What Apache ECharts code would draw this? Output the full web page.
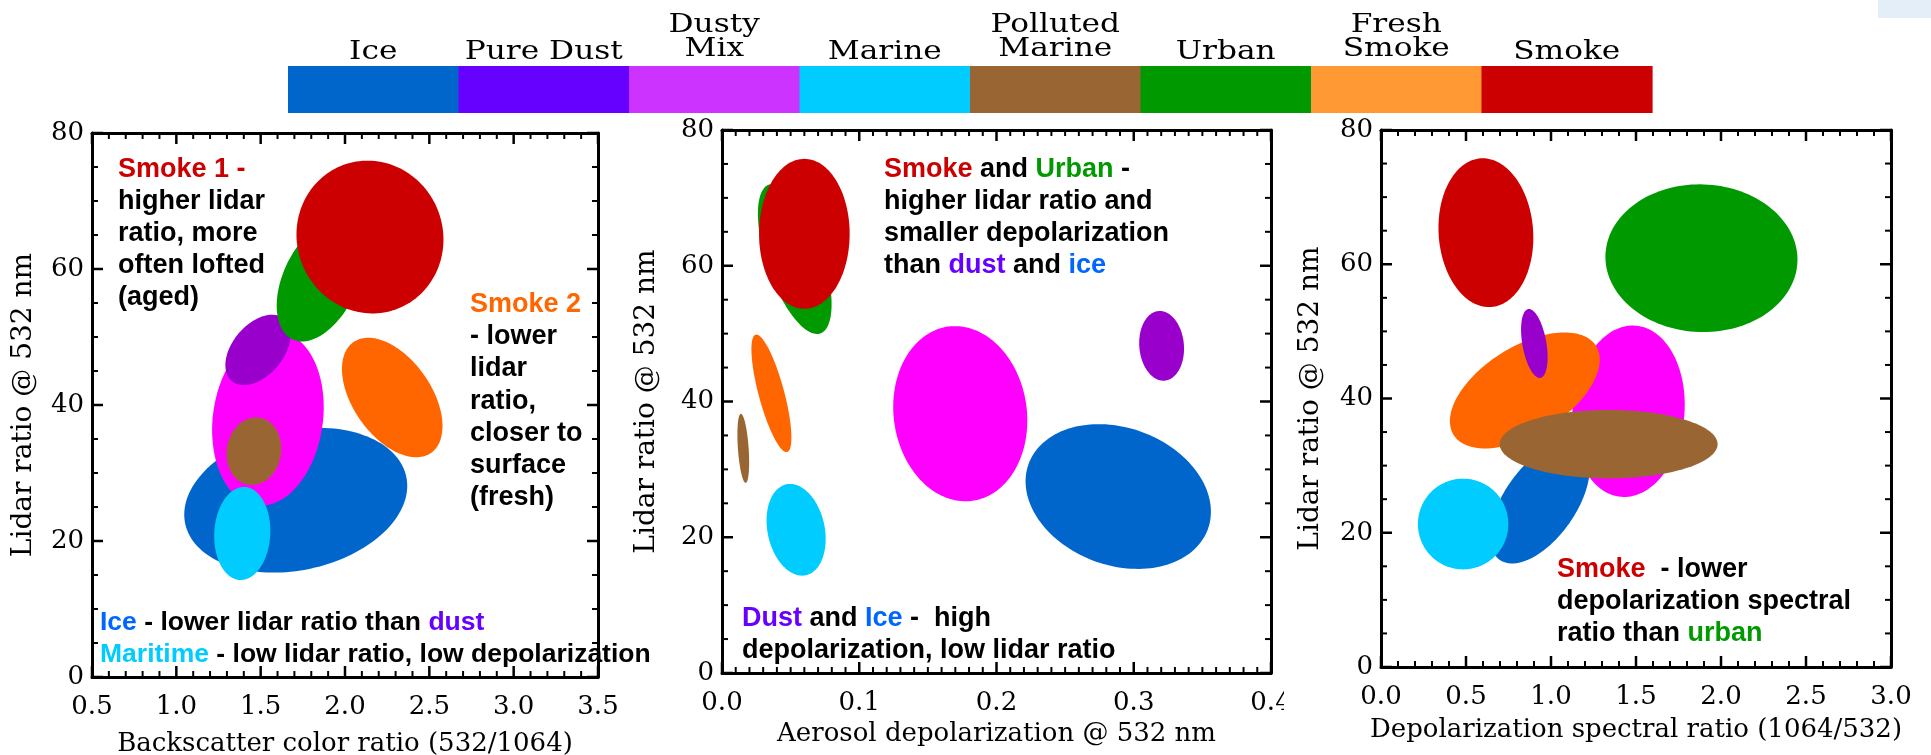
<!DOCTYPE html>
<html><head><meta charset="utf-8">
<script src="https://cdn.jsdelivr.net/npm/echarts@6/dist/echarts.min.js"></script>
<style>html,body{margin:0;padding:0;background:#fff;}#chart{width:1931px;height:755px;}</style>
</head><body><div id="chart"></div>
<script>
// ---------------- DATA ----------------
const categories = ['Ice', 'Pure Dust', 'Dusty Mix', 'Marine', 'Polluted Marine', 'Urban', 'Fresh Smoke', 'Smoke'];
const legendLabels = ['Ice', 'Pure Dust', 'Dusty\nMix', 'Marine', 'Polluted\nMarine', 'Urban', 'Fresh\nSmoke', 'Smoke'];
const legendColors = ['#0066CC', '#6600FF', '#CC33FF', '#00CCFF', '#996633', '#009900', '#FF9933', '#CC0000'];
const ellipseColors = ['#0066CC', '#9900CC', '#FF00FF', '#00CCFF', '#996633', '#009900', '#FF6600', '#CC0000'];
const drawOrder = [0, 2, 3, 6, 1, 4, 5, 7];

// rows: [categoryIndex, centerX, centerY(lidar ratio), halfWidthX, halfHeightY, tilt(deg)]
const colorRatioEllipses = [
  [0, 1.708, 26.0, 0.67, 10.3, 12],
  [1, 1.484, 48.1, 0.241, 3.74, 50],
  [2, 1.543, 38.0, 0.326, 12.9, -8],
  [3, 1.391, 21.1, 0.166, 6.85, -3],
  [4, 1.46, 33.2, 0.161, 5.0, -10],
  [5, 1.852, 58.3, 0.385, 5.44, 65],
  [6, 2.28, 41.1, 0.401, 5.74, -55],
  [7, 2.148, 64.7, 0.433, 11.3, 20]
];
const depolEllipses = [
  [0, 0.2887, 26.0, 0.0695, 10.13, -20],
  [1, 0.3203, 48.2, 0.01625, 5.15, 5],
  [2, 0.1736, 38.2, 0.0485, 12.96, 8],
  [3, 0.054, 21.1, 0.0208, 6.85, 12],
  [4, 0.0155, 33.1, 0.0039, 5.1, 4],
  [5, 0.053, 61.0, 0.0204, 11.6, 19],
  [6, 0.036, 41.2, 0.0093, 8.95, 15],
  [7, 0.060, 64.7, 0.033, 11.05, 0]
];
const spectralEllipses = [
  [0, 0.935, 24.5, 0.412, 5.35, 55],
  [1, 0.902, 48.2, 0.0706, 5.2, 10],
  [2, 1.456, 38.1, 0.329, 12.8, -5],
  [3, 0.483, 21.3, 0.266, 6.76, 0],
  [4, 1.339, 33.2, 0.641, 5.1, 0],
  [5, 1.885, 60.9, 0.565, 11.0, -2],
  [6, 0.846, 41.2, 0.494, 6.54, 32],
  [7, 0.617, 64.7, 0.278, 11.1, 4]
];

const colorRatioTicks = [0.5, 1.0, 1.5, 2.0, 2.5, 3.0, 3.5];
const depolTicks = [0.0, 0.1, 0.2, 0.3, 0.4];
const spectralTicks = [0.0, 0.5, 1.0, 1.5, 2.0, 2.5, 3.0];
const lidarTicks = [0, 20, 40, 60, 80];

const xNames = ['Backscatter color ratio (532/1064)', 'Aerosol depolarization @ 532 nm', 'Depolarization spectral ratio (1064/532)'];
const yName = 'Lidar ratio @ 532 nm';

const notes = [
  ['{red|Smoke 1 -}', '{k|higher lidar}', '{k|ratio, more}', '{k|often lofted}', '{k|(aged)}'],
  ['{orange|Smoke 2}', '{k|- lower}', '{k|lidar}', '{k|ratio,}', '{k|closer to}', '{k|surface}', '{k|(fresh)}'],
  ['{blue|Ice}{k| - lower lidar ratio than }{purple|dust}', '{cyan|Maritime}{k| - low lidar ratio, low depolarization}'],
  ['{red|Smoke}{k| and }{green|Urban}{k| -}', '{k|higher lidar ratio and}', '{k|smaller depolarization}', '{k|than }{purple|dust}{k| and }{blue|ice}'],
  ['{purple|Dust}{k| and }{blue|Ice}{k| -  high}', '{k|depolarization, low lidar ratio}'],
  ['{red|Smoke}{k|  - lower}', '{k|depolarization spectral}', '{k|ratio than }{green|urban}']
];

// ---------------- LAYOUT ----------------
const grids = [
  { left: 92, top: 133, width: 506, height: 544 },
  { left: 722, top: 130, width: 549, height: 543 },
  { left: 1381, top: 130, width: 510, height: 537 }
];
const xTickSets = [colorRatioTicks, depolTicks, spectralTicks];
const xMinorSplit = [5, 10, 5];
const yMinorSplit = 4;
const xNameGap = [54, 48, 50];
const yNameGap = [54, 61, 56];
const noteBoxes = [
  { x: 118, y: 154, lh: 32, fs: 27 },
  { x: 470, y: 288, lh: 32.3, fs: 27 },
  { x: 100, y: 606, lh: 32.7, fs: 26.5 },
  { x: 884, y: 153, lh: 32.2, fs: 27 },
  { x: 742, y: 603, lh: 31.4, fs: 27 },
  { x: 1557, y: 554, lh: 31.9, fs: 27 }
];
const MAJOR_LEN = 11, MINOR_LEN = 6;

const serif = 'DejaVu Serif';
const axisLineStyle = { color: '#000', width: 3 };

const xAxes = [], yAxes = [];
grids.forEach((g, i) => {
  const t = xTickSets[i];
  const base = {
    gridIndex: i, type: 'value', min: t[0], max: t[t.length - 1], interval: +(t[1] - t[0]).toFixed(6),
    axisLine: { show: true, onZero: false, lineStyle: axisLineStyle },
    axisTick: { show: false }, minorTick: { show: false },
    splitLine: { show: false }
  };
  xAxes.push(Object.assign({}, base, {
    position: 'bottom',
    axisLabel: { show: true, margin: 17, color: '#000', fontFamily: serif, fontSize: 26, formatter: v => v.toFixed(1) },
    name: xNames[i], nameLocation: 'middle', nameGap: xNameGap[i],
    nameTextStyle: { color: '#000', fontFamily: serif, fontSize: 26 }
  }));
  xAxes.push(Object.assign({}, base, { position: 'top', axisLabel: { show: false } }));
  const ybase = {
    gridIndex: i, type: 'value', min: lidarTicks[0], max: lidarTicks[lidarTicks.length - 1],
    interval: lidarTicks[1] - lidarTicks[0],
    axisLine: { show: true, onZero: false, lineStyle: axisLineStyle },
    axisTick: { show: false }, minorTick: { show: false },
    splitLine: { show: false }
  };
  yAxes.push(Object.assign({}, ybase, {
    position: 'left',
    axisLabel: { show: true, margin: 8, color: '#000', fontFamily: serif, fontSize: 26 },
    name: yName, nameLocation: 'middle', nameGap: yNameGap[i],
    nameTextStyle: { color: '#000', fontFamily: serif, fontSize: 28 }
  }));
  yAxes.push(Object.assign({}, ybase, { position: 'right', axisLabel: { show: false } }));
});

function ellipsePoints(c, s, th) {
  const pts = [];
  const n = 144;
  for (let i = 0; i < n; i++) {
    const t = i / n * 2 * Math.PI;
    const ex = s[0] * Math.cos(t), ey = s[1] * Math.sin(t);
    pts.push([c[0] + ex * Math.cos(th) - ey * Math.sin(th), c[1] - (ex * Math.sin(th) + ey * Math.cos(th))]);
  }
  return pts;
}

function renderEllipse(params, api) {
  const cat = api.value(0);
  const c = api.coord([api.value(1), api.value(2)]);
  const s = api.size([api.value(3), api.value(4)]);
  const th = api.value(5) * Math.PI / 180;
  return { type: 'polygon', shape: { points: ellipsePoints(c, s, th) }, style: { fill: ellipseColors[cat] } };
}

function ordered(rows) {
  return drawOrder.map(ci => rows.find(r => r[0] === ci));
}

// tick positions from the tick-label arrays, with minor subdivisions
function tickValues(ticks, split) {
  const out = [];
  for (let k = 0; k < ticks.length; k++) {
    out.push([ticks[k], 1]);
    if (k < ticks.length - 1) {
      const step = (ticks[k + 1] - ticks[k]) / split;
      for (let m = 1; m < split; m++) out.push([ticks[k] + m * step, 0]);
    }
  }
  return out;
}

// inward tick marks on all four sides, placed via api.coord
function makeTickRenderer(xt, xsplit, yt, ysplit) {
  const x0 = xt[0], x1 = xt[xt.length - 1], y0 = yt[0], y1 = yt[yt.length - 1];
  return function (params, api) {
    const children = [];
    const add = (ax, ay, bx, by, major) => children.push({
      type: 'line', shape: { x1: ax, y1: ay, x2: bx, y2: by },
      style: { stroke: '#000', lineWidth: major ? 2.5 : 2 }
    });
    tickValues(xt, xsplit).forEach(([v, major]) => {
      const L = major ? MAJOR_LEN : MINOR_LEN;
      const b = api.coord([v, y0]), t = api.coord([v, y1]);
      add(b[0], b[1], b[0], b[1] - L, major);
      add(t[0], t[1], t[0], t[1] + L, major);
    });
    tickValues(yt, ysplit).forEach(([v, major]) => {
      const L = major ? MAJOR_LEN : MINOR_LEN;
      const l = api.coord([x0, v]), r = api.coord([x1, v]);
      add(l[0], l[1], l[0] + L, l[1], major);
      add(r[0], r[1], r[0] - L, r[1], major);
    });
    return { type: 'group', children: children };
  };
}

const series = [];
[colorRatioEllipses, depolEllipses, spectralEllipses].forEach((rows, i) => {
  series.push({
    type: 'custom', name: 'panel' + i, xAxisIndex: i * 2, yAxisIndex: i * 2,
    renderItem: renderEllipse, data: ordered(rows), silent: true, z: 2
  });
  const xt = xTickSets[i];
  series.push({
    type: 'custom', name: 'ticks' + i, xAxisIndex: i * 2, yAxisIndex: i * 2,
    renderItem: makeTickRenderer(xt, xMinorSplit[i], lidarTicks, yMinorSplit),
    data: [[xt[0], lidarTicks[0]]],
    silent: true, z: 10, clip: false
  });
});

// ---------------- GRAPHICS (legend bar, annotations) ----------------
const graphic = [];
graphic.push({ type: 'rect', shape: { x: 1878, y: 0, width: 53, height: 18 }, style: { fill: '#E3EEF9' }, z: 1 });
const barLeft = 288, barRight = 1652, barTop = 66, barH = 47;
const segW = (barRight - barLeft) / categories.length;
categories.forEach((c, i) => {
  graphic.push({ type: 'rect', shape: { x: barLeft + i * segW, y: barTop, width: segW + 0.6, height: barH }, style: { fill: legendColors[i] }, z: 1 });
  const two = legendLabels[i].indexOf('\n') >= 0;
  graphic.push({
    type: 'text', x: barLeft + (i + 0.5) * segW, y: two ? 37 : 52, scaleX: 1.2, z: 5,
    style: { text: legendLabels[i], fill: '#000', fontFamily: serif, fontSize: 26, lineHeight: 23.5, align: 'center', verticalAlign: 'middle' }
  });
});
graphic.push({ type: 'rect', shape: { x: 1284, y: 682, width: 40, height: 36 }, style: { fill: '#fff' }, z: 100 });

const noteColors = { k: '#000', red: '#CC0000', green: '#009900', orange: '#FF6600', purple: '#6600FF', blue: '#0066FF', cyan: '#00CCFF' };
notes.forEach((lines, i) => {
  const b = noteBoxes[i];
  const rich = {};
  Object.keys(noteColors).forEach(k => {
    rich[k] = { fill: noteColors[k], fontFamily: 'Liberation Sans', fontWeight: 'bold', fontSize: b.fs, lineHeight: b.lh };
  });
  graphic.push({
    type: 'text', x: b.x, y: b.y, z: 50,
    style: { text: lines.join('\n'), rich: rich, fontFamily: 'Liberation Sans', fontWeight: 'bold', fontSize: b.fs, lineHeight: b.lh, align: 'left', verticalAlign: 'top', fill: '#000' }
  });
});

const chart = echarts.init(document.getElementById('chart'), null, { renderer: 'canvas' });
chart.setOption({
  backgroundColor: '#fff',
  animation: false,
  grid: grids.map(g => Object.assign({ containLabel: false, outerBoundsMode: 'none' }, g)),
  xAxis: xAxes,
  yAxis: yAxes,
  series: series,
  graphic: graphic
});
</script>
</body></html>
